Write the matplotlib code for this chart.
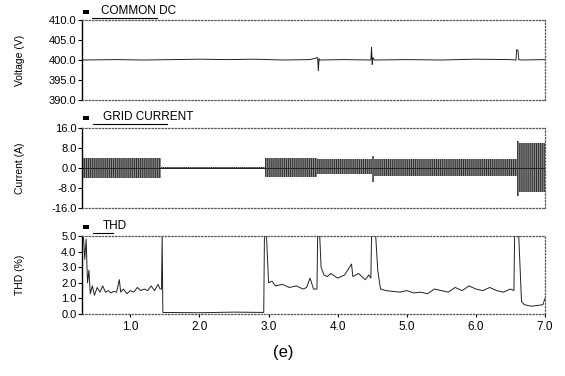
#!/usr/bin/env python3
import matplotlib
matplotlib.use('Agg')
import matplotlib.pyplot as plt
import numpy as np

plt.rcParams['font.family'] = ['Liberation Sans', 'DejaVu Sans']
plt.rcParams['hatch.linewidth'] = 0.6

# DC link voltage: flat 400 V with a few transients
volt_t = [0.30, 0.80, 1.20, 1.60, 2.00, 2.40, 2.80, 3.20, 3.60, 3.71, 3.72, 3.73, 3.74,
          4.10, 4.48, 4.49, 4.50, 4.51, 4.53, 5.00, 5.50, 6.00, 6.50, 6.58, 6.59,
          6.61, 6.62, 6.65, 7.00]
volt_v = [400.0, 400.1, 400.0, 400.1, 400.2, 400.1, 400.2, 400.0, 400.1, 400.6, 397.3, 400.3, 400.0,
          400.1, 400.0, 403.2, 398.9, 400.6, 400.0, 400.1, 400.0, 400.2, 400.1, 400.0, 402.6,
          402.4, 400.1, 400.0, 400.1]

# grid current envelope (upper / lower peak, A), stepwise
cur_t = [0.30, 1.45, 2.95, 3.70, 4.50, 4.53, 6.60, 6.63, 7.00]
cur_hi = [4.0, 0.3, 4.0, 3.5, 5.0, 3.5, 11.0, 10.0, 10.0]
cur_lo = [-4.0, -0.3, -3.5, -2.5, -5.5, -3.0, -11.0, -9.5, -9.5]

# total harmonic distortion (%)
thd_t = [0.30, 0.32, 0.34, 0.36, 0.38, 0.40, 0.42, 0.45, 0.48, 0.52, 0.56, 0.60, 0.64, 0.68,
         0.72, 0.76, 0.80, 0.84, 0.86, 0.90, 0.95, 1.00, 1.05, 1.10, 1.15, 1.20, 1.25, 1.30,
         1.35, 1.40, 1.43, 1.45, 1.46, 1.47, 2.00, 2.50, 2.93, 2.94, 2.97, 3.00, 3.05, 3.10,
         3.20, 3.30, 3.40, 3.50, 3.55, 3.60, 3.65, 3.70, 3.71, 3.74, 3.76, 3.80, 3.85, 3.90,
         4.00, 4.10, 4.20, 4.22, 4.30, 4.40, 4.45, 4.48, 4.49, 4.55, 4.58, 4.62, 4.70, 4.80,
         4.90, 5.00, 5.10, 5.20, 5.30, 5.40, 5.50, 5.60, 5.70, 5.80, 5.90, 6.00, 6.10, 6.20,
         6.30, 6.40, 6.50, 6.55, 6.56, 6.62, 6.66, 6.70, 6.80, 6.90, 6.97, 7.00]
thd_v = [5.0, 5.0, 3.5, 4.8, 2.0, 2.8, 1.3, 1.8, 1.2, 1.7, 1.4, 1.8, 1.4, 1.5,
         1.35, 1.45, 1.4, 2.2, 1.4, 1.6, 1.3, 1.5, 1.4, 1.7, 1.5, 1.6, 1.5, 1.8,
         1.5, 1.9, 1.6, 1.6, 5.0, 0.1, 0.08, 0.12, 0.1, 5.0, 5.0, 2.0, 2.1, 1.8,
         1.9, 1.7, 1.8, 1.6, 1.7, 2.3, 1.6, 1.6, 5.0, 5.0, 3.0, 2.5, 2.4, 2.6,
         2.3, 2.5, 3.2, 2.4, 2.6, 2.2, 2.5, 2.3, 5.0, 5.0, 2.8, 1.6, 1.5, 1.45,
         1.4, 1.5, 1.35, 1.4, 1.3, 1.6, 1.5, 1.4, 1.7, 1.5, 1.8, 1.6, 1.5, 1.7,
         1.5, 1.4, 1.6, 1.5, 5.0, 5.0, 0.8, 0.6, 0.5, 0.55, 0.6, 1.0]

x_ticks = [1.0, 2.0, 3.0, 4.0, 5.0, 6.0, 7.0]

W, H = 565, 376
fig = plt.figure(figsize=(W / 100, H / 100), dpi=100)


def px_axes(top, bottom):
    return fig.add_axes([82 / W, 1 - bottom / H, (545 - 82) / W, (bottom - top) / H])


def style(ax):
    for s in ['top', 'right', 'bottom']:
        ax.spines[s].set_linestyle(':')
        ax.spines[s].set_color('#555555')
        ax.spines[s].set_linewidth(0.9)
    ax.spines['left'].set_linewidth(1.0)
    ax.tick_params(axis='y', direction='out', length=3, width=0.8, labelsize=8, pad=1)
    ax.set_xlim(0.3, 7.0)


def header(x0, y, ul0, ul1, text):
    fig.add_artist(plt.Rectangle((83 / W, 1 - (y + 2) / H), 6 / W, 4 / H,
                                 facecolor='black', edgecolor='none'))
    fig.text(x0 / W, 1 - (y - 1) / H, text, fontsize=8.5, ha='left', va='center')
    fig.add_artist(plt.Line2D([ul0 / W, ul1 / W], [1 - (y + 6) / H] * 2, color='black', lw=0.8))


# voltage
ax1 = px_axes(20, 100)
style(ax1)
ax1.plot(volt_t, volt_v, color='#222222', lw=0.7)
ax1.set_ylim(390, 410)
ax1.set_yticks([390, 395, 400, 405, 410])
ax1.set_yticklabels(['390.0', '395.0', '400.0', '405.0', '410.0'])
ax1.set_xticks([])

# current
ax2 = px_axes(128, 208)
style(ax2)
ax2.fill_between(cur_t, cur_lo, cur_hi, step='post', facecolor='#8c8c8c',
                 edgecolor='#222222', hatch='||||||||', lw=0)
ax2.plot([0.3, 7.0], [0, 0], color='#222222', lw=0.7)
ax2.set_ylim(-16, 16)
ax2.set_yticks([-16, -8, 0, 8, 16])
ax2.set_yticklabels(['-16.0', '-8.0', '0.0', '8.0', '16.0'])
ax2.set_xticks([])

# THD
ax3 = px_axes(236, 314)
style(ax3)
ax3.plot(thd_t, thd_v, color='#222222', lw=0.7)
ax3.set_ylim(0, 5)
ax3.set_yticks([0, 1, 2, 3, 4, 5])
ax3.set_yticklabels(['0.0', '1.0', '2.0', '3.0', '4.0', '5.0'])
ax3.set_xticks(x_ticks)
ax3.set_xticklabels(['%.1f' % v for v in x_ticks])
ax3.tick_params(axis='x', direction='out', length=2, labelsize=8.5, pad=3)

header(101, 12, 92, 157, 'COMMON DC')
header(103, 118, 93, 167, 'GRID CURRENT')
header(103, 227, 93, 113, 'THD')

fig.text(20 / W, 1 - 60 / H, 'Voltage (V)', rotation=90, fontsize=7.5, ha='center', va='center')
fig.text(20 / W, 1 - 168 / H, 'Current (A)', rotation=90, fontsize=7.5, ha='center', va='center')
fig.text(20 / W, 1 - 275 / H, 'THD (%)', rotation=90, fontsize=7.5, ha='center', va='center')
fig.text(283 / W, 1 - 352 / H, '(e)', fontsize=12, ha='center', va='center')

plt.savefig('out.png', dpi=100)
